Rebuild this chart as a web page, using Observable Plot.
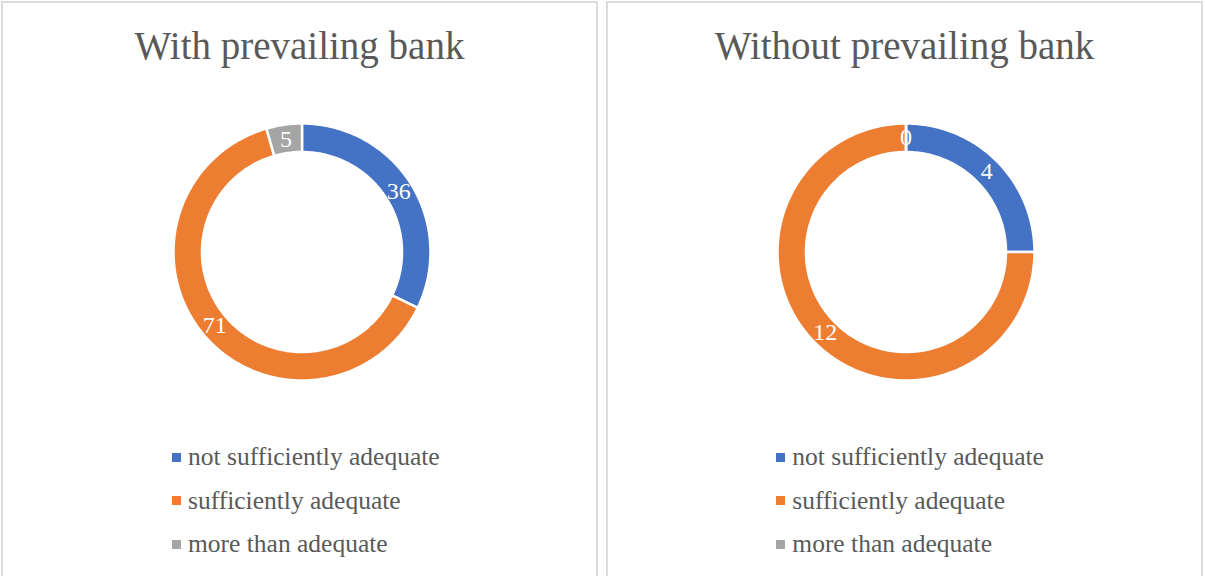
<!DOCTYPE html>
<html>
<head>
<meta charset="utf-8">
<script src="https://cdn.jsdelivr.net/npm/d3@7"></script>
<script src="https://cdn.jsdelivr.net/npm/@observablehq/plot@0.6"></script>
<style>
  html, body { margin: 0; padding: 0; background: #fff; }
  body { width: 1205px; height: 576px; overflow: hidden; position: relative; font-family: "Liberation Serif", serif; }
  .panel { position: absolute; top: 1px; width: 597px; height: 620px; box-sizing: border-box;
           border: 2px solid #DCDCDC; background: #fff; }
  .title { position: absolute; left: 0; right: 0; top: 20px; text-align: center; font-size: 39px;
           line-height: 46px; color: #595959; white-space: nowrap; }
  .chart { position: absolute; }
  .legend { position: absolute; }
  .row { display: flex; align-items: center; height: 43.5px; }
  .sw { width: 9px; height: 9px; margin-right: 7px; flex: none; }
  .lab { font-size: 25.5px; color: #595959; line-height: 30px; white-space: nowrap; }
</style>
</head>
<body>
<script>
// ---- data ----
const categories = ["not sufficiently adequate", "sufficiently adequate", "more than adequate"];
const colors = ["#4472C4", "#ED7D31", "#A5A5A5"];
const titles = ["With prevailing bank", "Without prevailing bank"];
const withBank = [36, 71, 5];
const withoutBank = [4, 12, 0];

const SIZE = 257;          // svg size (outer diameter in px)
const INNER = 100 / 128.5; // inner radius ratio

function donut(values) {
  const items = values.map((v, i) => ({cat: categories[i], value: v}));
  const arcs = d3.pie().sort(null).value(d => d.value)(items);
  const poly = [];
  arcs.forEach(p => {
    const n = Math.max(1, Math.ceil((p.endAngle - p.startAngle) / (Math.PI / 180)));
    for (let k = 0; k <= n; k++) {
      const a = p.startAngle + (p.endAngle - p.startAngle) * k / n;
      poly.push({cat: p.data.cat, x: Math.sin(a), y: Math.cos(a)});
    }
    for (let k = n; k >= 0; k--) {
      const a = p.startAngle + (p.endAngle - p.startAngle) * k / n;
      poly.push({cat: p.data.cat, x: INNER * Math.sin(a), y: INNER * Math.cos(a)});
    }
  });
  const mid = (1 + INNER) / 2;
  const labels = arcs.map(p => {
    const a = (p.startAngle + p.endAngle) / 2;
    return {cat: p.data.cat, value: p.data.value, x: mid * Math.sin(a), y: mid * Math.cos(a)};
  });
  return Plot.plot({
    width: SIZE, height: SIZE, margin: 0,
    style: {fontFamily: "Liberation Serif", overflow: "visible", background: "transparent"},
    x: {domain: [-1, 1], axis: null},
    y: {domain: [-1, 1], axis: null},
    color: {domain: categories, range: colors},
    marks: [
      Plot.line(poly, {x: "x", y: "y", z: "cat", fill: "cat", stroke: "white", strokeWidth: 2.5,
                       curve: "linear-closed", strokeLinejoin: "miter", strokeMiterlimit: 4}),
      Plot.text(labels, {x: "x", y: "y", text: d => String(d.value), fill: "white",
                         fontSize: 24, fontFamily: "Liberation Serif"})
    ]
  });
}

function panel(left, title, values, cx, cy) {
  const p = document.createElement("div");
  p.className = "panel";
  p.style.left = left + "px";
  document.body.appendChild(p);
  const t = document.createElement("div");
  t.className = "title";
  t.textContent = title;
  p.appendChild(t);
  const c = document.createElement("div");
  c.className = "chart";
  // panel content origin = left+2, 1+2
  c.style.left = (cx - SIZE / 2 - left - 2) + "px";
  c.style.top = (cy - SIZE / 2 - 3) + "px";
  c.appendChild(donut(values));
  p.appendChild(c);
  const lg = document.createElement("div");
  lg.className = "legend";
  lg.style.left = (cx - 129 - left - 2) + "px";
  lg.style.top = (457 - 43.5 / 2 - 3) + "px";
  categories.forEach((cat, i) => {
    const r = document.createElement("div");
    r.className = "row";
    const s = document.createElement("div");
    s.className = "sw";
    s.style.background = colors[i];
    const l = document.createElement("span");
    l.className = "lab";
    l.textContent = cat;
    r.appendChild(s); r.appendChild(l);
    lg.appendChild(r);
  });
  p.appendChild(lg);
}

panel(1, titles[0], withBank, 301, 251.3);
panel(606, titles[1], withoutBank, 905.3, 251.2);
</script>
</body>
</html>
